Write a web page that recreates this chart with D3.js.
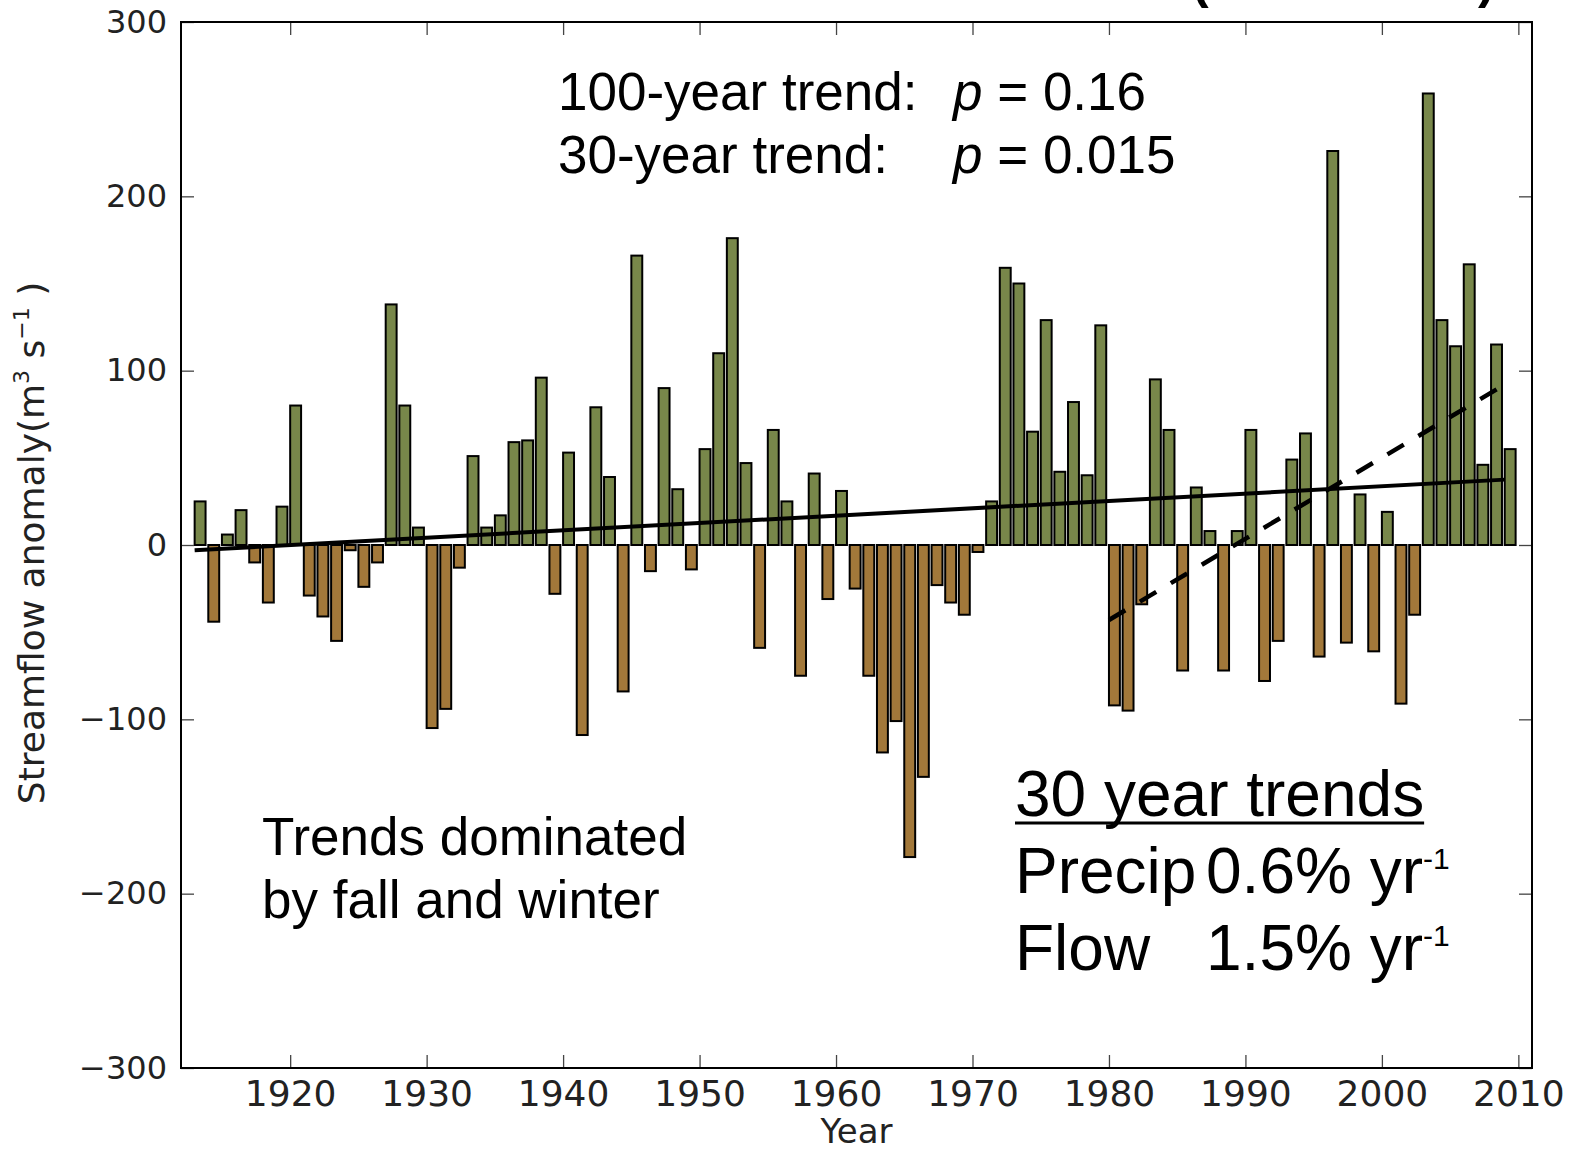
<!DOCTYPE html>
<html>
<head>
<meta charset="utf-8">
<script src="https://cdn.jsdelivr.net/npm/d3@7"></script>
<style>
  body { margin: 0; background: #fff; }
  svg { display: block; }
  .tick text { font-family: "DejaVu Sans", sans-serif; fill: #222; }
  .note { font-family: "Liberation Sans", Arial, sans-serif; fill: #000; }
</style>
</head>
<body>
<div id="chart"></div>
<script>
var w = 1570;
var h = 1150;

// years 1913-2009
var years = d3.range(1913, 2010);
var anomaly = [
  25, -44, 6, 20, -10, -33, 22, 80, -29, -41,
  -55, -3, -24, -10, 138, 80, 10, -105, -94, -13,
  51, 10, 17, 59, 60, 96, -28, 53, -109, 79,
  39, -84, 166, -15, 90, 32, -14, 55, 110, 176,
  47, -59, 66, 25, -75, 41, -31, 31, -25, -75,
  -119, -101, -179, -133, -23, -33, -40, -4, 25, 159,
  150, 65, 129, 42, 82, 40, 126, -92, -95, -34,
  95, 66, -72, 33, 8, -72, 8, 66, -78, -55,
  49, 64, -64, 226, -56, 29, -61, 19, -91, -40,
  259, 129, 114, 161, 46, 115, 55
];

// trend lines (end points)
var trend100Years = [1913, 2009];
var trend100Vals = [-3, 37.5];
var trend30Years = [1980, 2009];
var trend30Vals = [-43, 92];

var xTicks = [1920, 1930, 1940, 1950, 1960, 1970, 1980, 1990, 2000, 2010];
var yTicks = [-300, -200, -100, 0, 100, 200, 300];

var pl = 181, pr = 1532, pt = 22, pb = 1068;

var x = d3.scaleLinear().domain([1912, 2011]).range([pl, pr]);
var y = d3.scaleLinear().domain([-300, 300]).range([pb, pt]);

var svg = d3.select("#chart").append("svg")
  .attr("width", w)
  .attr("height", h);

// bars
svg.selectAll("rect.bar")
  .data(years)
  .enter()
  .append("rect")
  .attr("class", "bar")
  .attr("x", function(d) { return x(d); })
  .attr("width", x(1912.8) - x(1912))
  .attr("y", function(d, i) { return y(Math.max(0, anomaly[i])); })
  .attr("height", function(d, i) { return Math.abs(y(anomaly[i]) - y(0)); })
  .style("fill", function(d, i) { return anomaly[i] >= 0 ? "#78874a" : "#a2783a"; })
  .attr("stroke", "#000")
  .attr("stroke-width", 2);

var line = d3.line()
  .x(function(d) { return x(d[0]); })
  .y(function(d) { return y(d[1]); });

svg.append("path")
  .attr("d", line(d3.zip(trend100Years, trend100Vals)))
  .attr("fill", "none")
  .attr("stroke", "#000")
  .attr("stroke-width", 4);

svg.append("path")
  .attr("d", line(d3.zip(trend30Years, trend30Vals)))
  .attr("fill", "none")
  .attr("stroke", "#000")
  .attr("stroke-width", 4.5)
  .attr("stroke-dasharray", "19,17");

// axes, inward ticks on all four sides
var xAxis = svg.append("g")
  .attr("transform", "translate(0," + pb + ")")
  .call(d3.axisBottom(x).tickValues(xTicks).tickFormat(d3.format("d")).tickSize(-13).tickPadding(12));
xAxis.selectAll("text").style("font-size", "36px");

var yAxis = svg.append("g")
  .attr("transform", "translate(" + pl + ",0)")
  .call(d3.axisLeft(y).tickValues(yTicks).tickSize(-13).tickPadding(14));
yAxis.selectAll("text").style("font-size", "32px");

svg.append("g")
  .attr("transform", "translate(0," + pt + ")")
  .call(d3.axisTop(x).tickValues(xTicks).tickFormat("").tickSize(-13));
svg.append("g")
  .attr("transform", "translate(" + pr + ",0)")
  .call(d3.axisRight(y).tickValues(yTicks).tickFormat("").tickSize(-13));

svg.selectAll(".domain").remove();
svg.selectAll(".tick line").attr("stroke", "#444").attr("stroke-width", 1.3);

svg.append("rect")
  .attr("x", pl).attr("y", pt)
  .attr("width", pr - pl).attr("height", pb - pt)
  .attr("fill", "none")
  .attr("stroke", "#000")
  .attr("stroke-width", 2);

// axis labels
svg.append("text")
  .attr("x", (pl + pr) / 2)
  .attr("y", 1143)
  .attr("text-anchor", "middle")
  .style("font-family", "DejaVu Sans, sans-serif")
  .style("font-size", "34px")
  .style("fill", "#222")
  .text("Year");

var yl = svg.append("text")
  .attr("transform", "translate(44,543) rotate(-90)")
  .attr("text-anchor", "middle")
  .style("font-family", "DejaVu Sans, sans-serif")
  .style("font-size", "36px")
  .style("fill", "#222");
yl.append("tspan").text("Streamflow anomaly(m");
yl.append("tspan").attr("dy", -15).style("font-size", "22px").text("3");
yl.append("tspan").attr("dy", 15).text(" s");
yl.append("tspan").attr("dy", -15).style("font-size", "22px").text("\u22121");
yl.append("tspan").attr("dy", 15).text(" )");

// title remnant cut at top edge
svg.append("text").attr("class", "note").attr("x", 1192).attr("y", -2)
  .style("font-size", "50px").style("font-weight", "bold").text("(");
svg.append("text").attr("class", "note").attr("x", 1478).attr("y", -2)
  .style("font-size", "50px").style("font-weight", "bold").text(")");

// p-value notes
var notes = [["100-year trend:", "0.16", 110], ["30-year trend:", "0.015", 173]];
notes.forEach(function(n) {
  svg.append("text").attr("class", "note").attr("x", 558).attr("y", n[2])
    .style("font-size", "53px").text(n[0]);
  var t = svg.append("text").attr("class", "note").attr("x", 953).attr("y", n[2])
    .style("font-size", "53px");
  t.append("tspan").style("font-style", "italic").text("p");
  t.append("tspan").text(" = " + n[1]);
});

svg.append("text").attr("class", "note").attr("x", 262).attr("y", 855)
  .style("font-size", "53px").text("Trends dominated");
svg.append("text").attr("class", "note").attr("x", 262).attr("y", 918)
  .style("font-size", "53px").text("by fall and winter");

var head = svg.append("text").attr("class", "note").attr("x", 1015).attr("y", 816)
  .style("font-size", "64px").text("30 year trends");
var hb = head.node().getBBox();
svg.append("line")
  .attr("x1", hb.x).attr("x2", hb.x + hb.width)
  .attr("y1", 823).attr("y2", 823)
  .attr("stroke", "#000").attr("stroke-width", 3);

var rates = [["Precip", "0.6% yr", 893], ["Flow", "1.5% yr", 970]];
rates.forEach(function(r) {
  svg.append("text").attr("class", "note").attr("x", 1015).attr("y", r[2])
    .style("font-size", "64px").text(r[0]);
  var t = svg.append("text").attr("class", "note").attr("x", 1206).attr("y", r[2])
    .style("font-size", "64px");
  t.append("tspan").text(r[1]);
  t.append("tspan").attr("dy", -24).style("font-size", "30px").text("-1");
});
</script>
</body>
</html>
